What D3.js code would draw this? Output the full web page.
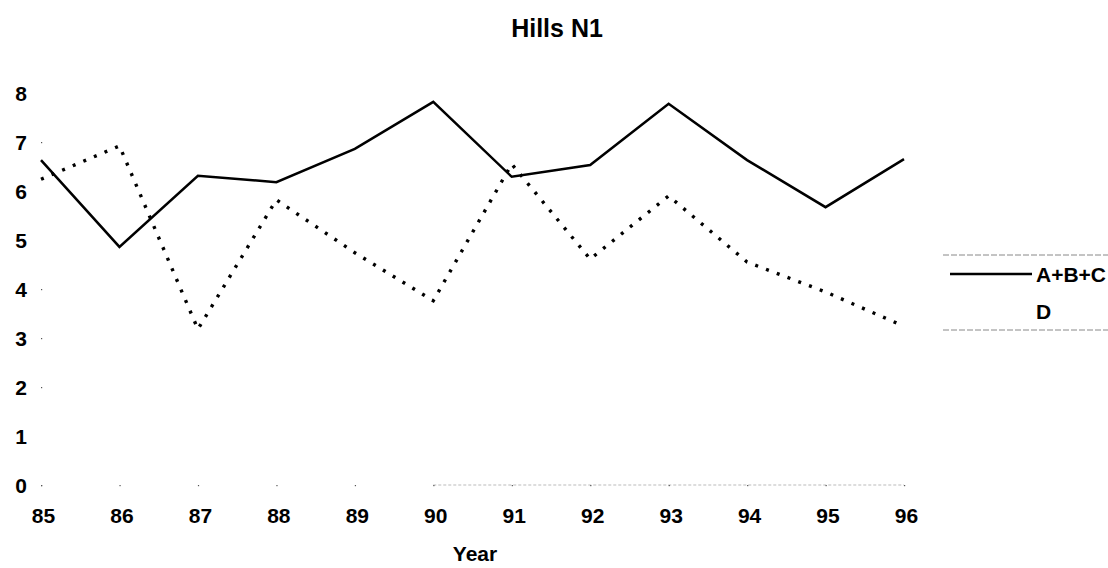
<!DOCTYPE html>
<html>
<head>
<meta charset="utf-8">
<script src="https://cdn.jsdelivr.net/npm/d3@7"></script>
<style>
  html, body { margin: 0; padding: 0; background: #fff; }
  svg { display: block; font-family: Arial, "Liberation Sans", sans-serif; }
</style>
</head>
<body>
<svg id="chart" width="1108" height="568"></svg>
<script>
const title = "Hills N1";
const xTitle = "Year";
const years = ["85","86","87","88","89","90","91","92","93","94","95","96"];
const yTicks = [0,1,2,3,4,5,6,7,8];
const seriesNames = ["A+B+C", "D"];
const abc = [6.63, 4.86, 6.31, 6.18, 6.86, 7.82, 6.29, 6.53, 7.78, 6.63, 5.67, 6.65];
const dVals = [6.24, 6.92, 3.18, 5.82, 4.74, 3.76, 6.55, 4.61, 5.90, 4.55, 3.94, 3.24];

const svg = d3.select("#chart");

const x = d3.scalePoint().domain(years).range([41, 904]);
const y = d3.scaleLinear().domain([0, 8]).range([485, 93]);

// Title
svg.append("text")
  .attr("x", 557).attr("y", 37)
  .attr("text-anchor", "middle")
  .attr("font-size", 25).attr("font-weight", "bold")
  .text(title);

// baseline (faint)
svg.append("line")
  .attr("x1", x("90")).attr("x2", x("96"))
  .attr("y1", y(0)).attr("y2", y(0))
  .attr("stroke", "#bbb").attr("stroke-width", 1)
  .attr("stroke-dasharray", "3,2");

// Y axis labels
const yAxis = d3.axisLeft(y).tickValues(yTicks).tickSize(0).tickPadding(0).tickFormat(d3.format("d"));
const gy = svg.append("g").attr("transform", "translate(27,0)").call(yAxis);
gy.select(".domain").remove();
gy.selectAll("text")
  .attr("font-size", 21).attr("font-weight", "bold")
  .attr("font-family", "Arial, 'Liberation Sans', sans-serif")
  .attr("fill", "#000").attr("dy", "0.36em");

// X axis labels
const xAxis = d3.axisBottom(x).tickSize(0).tickPadding(0);
const gx = svg.append("g").attr("transform", "translate(0,515)").call(xAxis);
gx.select(".domain").remove();
gx.selectAll("text")
  .attr("font-size", 21).attr("font-weight", "bold")
  .attr("font-family", "Arial, 'Liberation Sans', sans-serif")
  .attr("fill", "#000").attr("dy", "0.36em").attr("dx", "2");

// small tick dots
svg.append("g").selectAll("rect").data(years).join("rect")
  .attr("x", d => x(d)).attr("y", y(0)).attr("width", 1.2).attr("height", 1.2).attr("fill", "#555");
svg.append("g").selectAll("rect").data([0,2,3,4,7]).join("rect")
  .attr("x", 41).attr("y", d => y(d)).attr("width", 1.2).attr("height", 1.2).attr("fill", "#555");

// X title
svg.append("text")
  .attr("x", 475).attr("y", 561)
  .attr("text-anchor", "middle")
  .attr("font-size", 21).attr("font-weight", "bold")
  .text(xTitle);

const line = d3.line().x((d, i) => x(years[i])).y(d => y(d));

svg.append("path").datum(dVals)
  .attr("d", line)
  .attr("fill", "none").attr("stroke", "#000").attr("stroke-width", 3.4)
  .attr("stroke-dasharray", "3,8.5");

svg.append("path").datum(abc)
  .attr("d", line)
  .attr("fill", "none").attr("stroke", "#000").attr("stroke-width", 2.5)
  .attr("stroke-linejoin", "miter");

// Legend
const lg = svg.append("g");
lg.append("line").attr("x1", 943).attr("x2", 1108).attr("y1", 255).attr("y2", 255)
  .attr("stroke", "#888").attr("stroke-width", 1).attr("stroke-dasharray", "6,2");
lg.append("line").attr("x1", 943).attr("x2", 1108).attr("y1", 330).attr("y2", 330)
  .attr("stroke", "#888").attr("stroke-width", 1).attr("stroke-dasharray", "6,2");
lg.append("line").attr("x1", 950).attr("x2", 1032).attr("y1", 274).attr("y2", 274)
  .attr("stroke", "#000").attr("stroke-width", 2.5);
lg.append("text").attr("x", 1036).attr("y", 274).attr("dy", "0.36em")
  .attr("font-size", 21).attr("font-weight", "bold").text(seriesNames[0]);
lg.append("text").attr("x", 1036).attr("y", 311).attr("dy", "0.36em")
  .attr("font-size", 21).attr("font-weight", "bold").text(seriesNames[1]);
</script>
</body>
</html>
